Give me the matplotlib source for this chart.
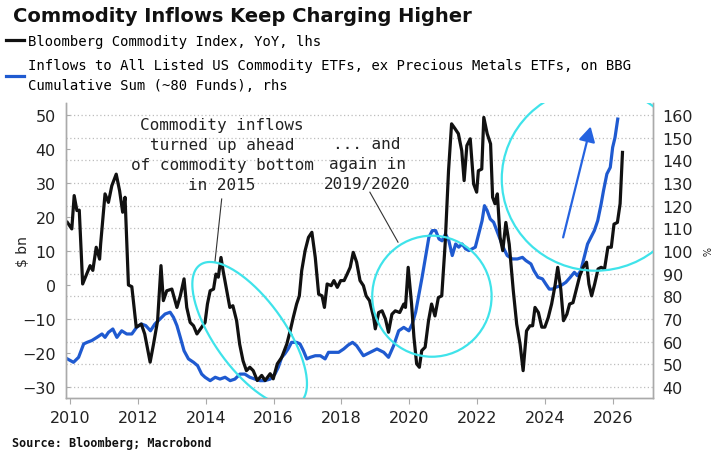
import numpy as np
import matplotlib
matplotlib.use('Agg')
import matplotlib.pyplot as plt
from matplotlib.patches import Ellipse

# ---- data ----
bcom_x = [2009.92, 2010.05, 2010.12, 2010.20, 2010.27, 2010.37, 2010.49, 2010.59, 2010.67, 2010.77,
          2010.87, 2010.90, 2011.03, 2011.13, 2011.23, 2011.36, 2011.46, 2011.55, 2011.62, 2011.72,
          2011.82, 2011.95, 2012.10, 2012.20, 2012.36, 2012.46, 2012.58, 2012.68, 2012.75, 2012.85,
          2013.00, 2013.15, 2013.25, 2013.36, 2013.44, 2013.54, 2013.64, 2013.74, 2013.88, 2013.98,
          2014.05, 2014.13, 2014.23, 2014.30, 2014.37, 2014.45, 2014.51, 2014.61, 2014.71, 2014.80,
          2014.91, 2015.00, 2015.10, 2015.20, 2015.30, 2015.40, 2015.52, 2015.65, 2015.75, 2015.90,
          2015.99, 2016.11, 2016.24, 2016.39, 2016.49, 2016.58, 2016.68, 2016.76, 2016.83, 2016.93,
          2017.03, 2017.13, 2017.23, 2017.33, 2017.43, 2017.50, 2017.58, 2017.70, 2017.78, 2017.88,
          2017.98, 2018.08, 2018.17, 2018.26, 2018.35, 2018.45, 2018.55, 2018.65, 2018.73, 2018.83,
          2018.95, 2019.00, 2019.10, 2019.20, 2019.30, 2019.39, 2019.49, 2019.59, 2019.72, 2019.84,
          2019.89, 2019.97, 2020.07, 2020.14, 2020.22, 2020.30, 2020.37, 2020.47, 2020.57, 2020.66,
          2020.76, 2020.86, 2020.96, 2021.06, 2021.16, 2021.25, 2021.35, 2021.45, 2021.55, 2021.62,
          2021.70, 2021.80, 2021.90, 2021.99, 2022.04, 2022.14, 2022.20, 2022.30, 2022.40, 2022.46,
          2022.53, 2022.60, 2022.68, 2022.76, 2022.85, 2022.95, 2023.07, 2023.17, 2023.27, 2023.36,
          2023.46, 2023.56, 2023.64, 2023.71, 2023.81, 2023.91, 2024.00, 2024.10, 2024.20, 2024.30,
          2024.38, 2024.47, 2024.55, 2024.65, 2024.73, 2024.83, 2024.93, 2025.03, 2025.13, 2025.23,
          2025.30, 2025.38, 2025.47, 2025.57, 2025.66, 2025.76, 2025.86, 2025.96, 2026.04, 2026.14,
          2026.22, 2026.29]
bcom_yoy = [18.4, 16.5, 26.3, 21.9, 22.0, 0.3, 3.2, 5.7, 4.3, 11.1,
            7.6, 12.0, 26.8, 24.3, 29.2, 32.6, 27.7, 21.4, 25.8, 0.0,
            -0.5, -12.4, -11.5, -14.4, -22.7, -17.4, -10.5, 5.7, -4.6, -1.7,
            -1.2, -6.6, -3.2, 1.8, -6.6, -11.0, -12.0, -14.4, -12.4, -11.0,
            -5.6, -1.7, -1.2, 3.2, 2.3, 8.1, 4.3, -1.2, -6.6, -6.1,
            -10.5, -17.4, -22.3, -25.2, -24.2, -25.2, -28.1, -26.6, -28.1, -26.1,
            -27.6, -23.2, -21.3, -17.4, -13.5, -9.6, -5.6, -3.2, 4.2, 10.1,
            14.0, 15.5, 8.1, -2.7, -3.2, -6.6, 0.3, -0.2, 1.3, -0.7,
            1.3, 1.3, 3.2, 5.2, 9.6, 6.7, 1.3, -0.2, -3.2, -4.6,
            -9.5, -12.9, -8.1, -7.6, -10.0, -13.9, -8.6, -7.6, -8.1, -5.6,
            -6.6, 5.2, -5.6, -15.4, -23.2, -24.2, -19.3, -18.3, -10.5, -5.6,
            -9.1, -3.7, -3.2, 12.0, 33.6, 47.4, 46.0, 44.5, 39.5, 30.7,
            41.0, 43.0, 29.7, 27.3, 33.6, 34.1, 49.3, 44.5, 41.5, 25.8,
            23.9, 26.8, 14.0, 10.1, 18.4, 12.0, -1.7, -11.5, -17.4, -25.2,
            -13.5, -12.0, -12.0, -6.6, -8.1, -12.4, -12.4, -9.6, -5.6, -0.2,
            5.2, -1.2, -10.5, -8.6, -5.6, -5.2, -1.2, 2.7, 5.2, 6.7,
            0.3, -3.2, 0.3, 4.7, 5.2, 4.7, 11.1, 11.1, 17.9, 18.4,
            23.9, 39.0]

flow_x = [2009.92, 2010.10, 2010.25, 2010.40, 2010.50, 2010.64, 2010.79, 2010.94, 2011.03, 2011.13,
          2011.26, 2011.38, 2011.52, 2011.67, 2011.82, 2011.96, 2012.10, 2012.23, 2012.37, 2012.50,
          2012.65, 2012.80, 2012.95, 2013.05, 2013.15, 2013.25, 2013.36, 2013.49, 2013.64, 2013.76,
          2013.88, 2013.98, 2014.13, 2014.28, 2014.42, 2014.57, 2014.72, 2014.86, 2015.01, 2015.15,
          2015.30, 2015.45, 2015.60, 2015.74, 2015.90, 2016.04, 2016.14, 2016.24, 2016.33, 2016.43,
          2016.53, 2016.68, 2016.78, 2016.88, 2016.98, 2017.08, 2017.23, 2017.38, 2017.52, 2017.62,
          2017.77, 2017.92, 2018.07, 2018.20, 2018.33, 2018.45, 2018.65, 2018.85, 2019.05, 2019.25,
          2019.39, 2019.54, 2019.69, 2019.84, 2019.99, 2020.09, 2020.19, 2020.29, 2020.38, 2020.48,
          2020.58, 2020.68, 2020.78, 2020.88, 2020.97, 2021.07, 2021.17, 2021.27, 2021.37, 2021.46,
          2021.56, 2021.66, 2021.76, 2021.86, 2021.95, 2022.05, 2022.15, 2022.22, 2022.30, 2022.39,
          2022.49, 2022.64, 2022.77, 2022.89, 2023.04, 2023.19, 2023.34, 2023.44, 2023.59, 2023.68,
          2023.80, 2023.93, 2024.03, 2024.13, 2024.23, 2024.32, 2024.47, 2024.62, 2024.75, 2024.87,
          2024.96, 2025.06, 2025.16, 2025.26, 2025.36, 2025.46, 2025.56, 2025.66, 2025.73, 2025.83,
          2025.93, 2026.00, 2026.07, 2026.15]
flow_cum = [52.4, 50.9, 53.1, 59.0, 59.7, 60.5, 61.9, 63.4, 61.9, 64.1,
            65.6, 61.9, 64.8, 63.4, 63.4, 66.3, 67.8, 67.1, 64.8, 67.8,
            70.0, 72.2, 73.0, 70.7, 67.1, 61.9, 56.0, 52.4, 50.9, 49.4,
            45.7, 44.3, 42.8, 44.3, 43.5, 44.3, 42.8, 43.5, 45.7, 45.7,
            44.3, 43.5, 42.8, 42.8, 43.5, 45.7, 48.7, 53.1, 54.6, 56.8,
            59.7, 59.7, 59.0, 56.0, 52.4, 53.1, 53.8, 53.8, 52.4, 55.3,
            55.3, 55.3, 56.8, 58.5, 59.7, 58.2, 53.8, 55.3, 56.8, 55.3,
            53.1, 58.2, 64.8, 66.3, 64.8, 67.8, 73.0, 81.0, 88.4, 97.2,
            106.0, 109.0, 109.0, 105.3, 104.5, 107.5, 104.5, 98.0, 103.1, 101.7,
            103.1, 101.0, 100.2, 101.0, 101.7, 107.5, 113.4, 120.0, 117.8, 114.1,
            112.7, 106.8, 101.7, 98.0, 96.5, 96.5, 97.2, 95.8, 94.3, 91.3,
            88.4, 87.7, 85.4, 83.2, 83.2, 84.0, 84.7, 86.2, 88.4, 90.6,
            89.1, 91.3, 97.2, 103.1, 106.0, 109.0, 113.4, 120.7, 126.6, 134.0,
            136.9, 145.7, 150.1, 158.2]

x_ticks = [2010, 2012, 2014, 2016, 2018, 2020, 2022, 2024, 2026]
left_ticks = [-30, -20, -10, 0, 10, 20, 30, 40, 50]
right_ticks = list(range(40, 161, 10))

BLACK = '#111111'
BLUE = '#1f5ad0'
CYAN = '#3fe3ea'
GREY = '#aaaaaa'
MONO = 'DejaVu Sans Mono'

W, H = 718, 464
fig = plt.figure(figsize=(W / 100, H / 100), dpi=100)
ax = fig.add_axes([65.7 / W, 1 - 399 / H, (653 - 65.7) / W, (399 - 104) / H])
ax2 = ax.twinx()
ax.set_zorder(ax2.get_zorder() + 1)
ax.patch.set_visible(False)

l2, = ax2.plot(flow_x, flow_cum, color=BLUE, lw=2.3, solid_joinstyle='round')
l1, = ax.plot(bcom_x, bcom_yoy, color=BLACK, lw=2.3, solid_joinstyle='round')

ax.set_xlim(2009.87, 2027.19)
ax.set_ylim(-33.24, 53.53)
ax2.set_ylim(35.15, 165.3)

ax.set_xticks(x_ticks)
ax.set_yticks(left_ticks)
ax2.set_yticks(right_ticks)
ax2.grid(axis='y', color='#bdbdbd', lw=0.9, linestyle=(0, (1, 2)))

for a in (ax, ax2):
    a.spines['top'].set_visible(False)
    for s in ('left', 'right', 'bottom'):
        a.spines[s].set_color(GREY)
        a.spines[s].set_linewidth(1.0)
ax.tick_params(axis='x', direction='out', length=4, color=GREY, labelsize=11.5, pad=5, labelcolor='#222222')
ax.tick_params(axis='y', direction='in', length=3, color=GREY, labelsize=11.5, pad=7, labelcolor='#222222')
ax2.tick_params(axis='y', length=0, labelsize=11.5, pad=7, labelcolor='#222222')

ax.set_ylabel('$ bn', fontsize=10, color='#222222')
ax.yaxis.set_label_coords(-0.060, 0.5)
ax2.set_ylabel('%', fontsize=7, color='#222222', rotation=270)
ax2.yaxis.set_label_coords(1.097, 0.5)

# ---- annotations ----
# tilted ellipse round the 2014-2016 trough (sheared so it leans down to the right)
t = np.linspace(0, 2 * np.pi, 240)
ex = 2015.295 - 0.0551 * 21.18 * np.sin(t) + 1.223 * np.cos(t)
ey = -14.41 + 21.18 * np.sin(t)
ax.plot(ex, ey, color=CYAN, lw=1.6, zorder=5)
ax.add_patch(Ellipse((2020.67, -3.3), 2 * 1.76, 2 * 17.8, fill=False, ec=CYAN, lw=1.6, zorder=5))
ax.add_patch(Ellipse((2025.50, 31.2), 2 * 2.77, 2 * 27.0, fill=False, ec=CYAN, lw=1.6, zorder=5))

ax.annotate('', xy=(2025.37, 47.4), xytext=(2024.52, 13.2),
            arrowprops=dict(arrowstyle='-|>,head_length=0.9,head_width=0.5', color='#2563e0', lw=1.6),
            zorder=6)

ax.text(2014.48, 38.5, 'Commodity inflows\nturned up ahead\nof commodity bottom\nin 2015',
        family=MONO, fontsize=11.5, ha='center', va='center', linespacing=1.42, color='#222222')
ax.plot([2014.47, 2014.27], [25.3, 6.7], color='#333333', lw=0.8)
ax.text(2018.76, 35.8, '... and\nagain in\n2019/2020',
        family=MONO, fontsize=11.5, ha='center', va='center', linespacing=1.42, color='#222222')
ax.plot([2018.84, 2019.67], [27.3, 12.6], color='#333333', lw=0.8)

# ---- title, legend, source ----
fig.text(13 / W, 1 - 17 / H, 'Commodity Inflows Keep Charging Higher', fontsize=14,
         fontweight='bold', ha='left', va='center', color='#111111')
leg = fig.legend([l1, l2],
                 ['Bloomberg Commodity Index, YoY, lhs',
                  'Inflows to All Listed US Commodity ETFs, ex Precious Metals ETFs, on BBG\nCumulative Sum (~80 Funds), rhs'],
                 loc='upper left', bbox_to_anchor=(6 / W, 1 - 35 / H), frameon=False,
                 prop={'family': MONO, 'size': 10}, handlelength=1.3, handletextpad=0.25,
                 labelspacing=0.75, borderaxespad=0, borderpad=0)
for txt in leg.get_texts():
    txt.set_linespacing(1.55)
fig.text(12 / W, 1 - 444 / H, 'Source: Bloomberg; Macrobond', family=MONO, fontsize=8.5,
         fontweight='bold', ha='left', va='center', color='#111111')

fig.savefig('out.png', dpi=100)
